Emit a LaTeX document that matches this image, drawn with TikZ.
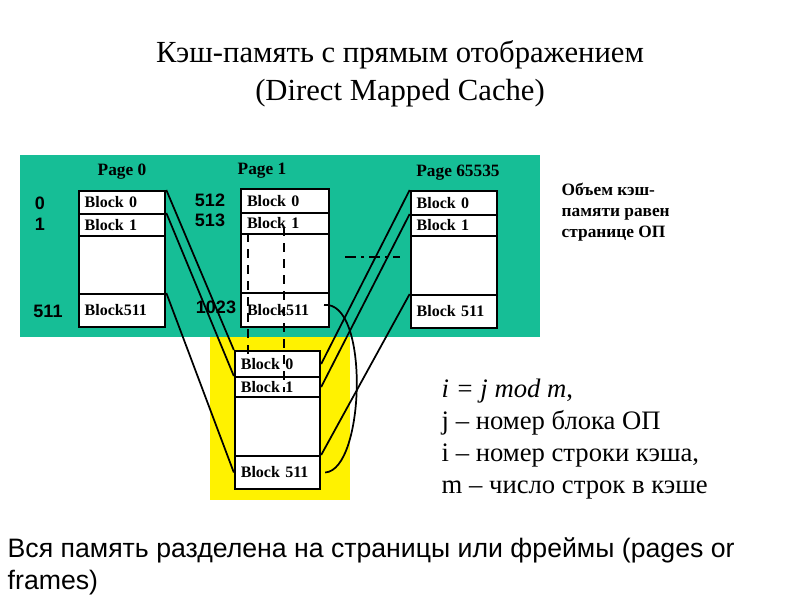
\documentclass[tikz,border=0pt]{standalone}
\usepackage{fontspec}
\setmainfont{Liberation Serif}
\newfontfamily\sansf{Liberation Sans}
\definecolor{bg}{RGB}{22,190,150}
\begin{document}
\begin{tikzpicture}[x=0.75pt,y=-0.75pt,
  blk/.style={draw,line width=1.5pt,fill=white,inner sep=0pt,text width=#1,align=left,font=\bfseries\fontsize{12}{14}\selectfont},
  lnk/.style={line width=1.3pt},
  lbl/.style={font=\bfseries\fontsize{13}{15}\selectfont},
  num/.style={font=\sansf\bfseries\fontsize{13.5}{15}\selectfont}]
\fill[white] (0,0) rectangle (800,600);
\fill[bg] (20,155) rectangle (540,337);
\fill[yellow] (210,337) rectangle (350,500);
\foreach \nm/\cy/\h/\t in {a0/202.5/23/Block 0,a1/225/22/Block 1,a2/265/58/,a3/310.5/33/Block511}{
  \node[blk=56pt,minimum width=82*0.75pt,minimum height=\h*0.75pt,inner xsep=4.5pt] (\nm) at (122,\cy) {\t};}
\foreach \nm/\cy/\h/\t in {b0/201/24/Block 0,b1/223.5/21/Block 1,b2/263.5/59/,b3/310/34/Block511}{
  \node[blk=57pt,minimum width=84*0.75pt,minimum height=\h*0.75pt,inner xsep=4.5pt] (\nm) at (285,\cy) {\t};}
\foreach \nm/\cy/\h/\t in {c0/203/24/Block 0,c1/225.5/21/Block 1,c2/265.5/59/,c3/311.5/33/Block 511}{
  \node[blk=56pt,minimum width=82*0.75pt,minimum height=\h*0.75pt,inner xsep=4.5pt] (\nm) at (454,\cy) {\t};}
\foreach \nm/\cy/\h/\t in {d0/364/26/Block 0,d1/387/20/Block 1,d2/426.5/59/,d3/472.5/33/Block 511}{
  \node[blk=55pt,minimum width=81*0.75pt,minimum height=\h*0.75pt,inner xsep=4.5pt] (\nm) at (277.5,\cy) {\t};}
\node[lbl] (p0) at (122,172) {Page 0};
\node[lbl] (p1) at (262,171) {Page 1};
\node[lbl] (p2) at (458,173) {Page 65535};
\node[num] (n0) at (40,203) {0};
\node[num] (n1) at (40,224) {1};
\node[num] (n511) at (48,311) {511};
\node[num] (n512) at (210,200) {512};
\node[num] (n513) at (210,220) {513};
\node[num] (n1023) at (216,307) {1023};
\draw[lnk] (a0.north east) -- (d0.north west);
\draw[lnk] (a1.north east) -- (d1.north west);
\draw[lnk] (a3.north east) -- (d3.west);
\draw[lnk] (c0.north west) -- (d0.east);
\draw[lnk] (c1.north west) -- (d1.east);
\draw[lnk] (c3.north west) -- (d3.north east);
\coordinate (q1) at (248,233); \coordinate (q2) at (248,355);
\coordinate (r1) at (284,227); \coordinate (r2) at (284,392);
\draw[lnk,dash pattern=on 7pt off 5pt] (q1) -- (q2);
\draw[lnk,dash pattern=on 7pt off 5pt] (r1) -- (r2);
\draw[lnk] (b3.east) ++(-6,-5) .. controls (370,300) and (365,470) .. ([xshift=3pt]d3.east);
\coordinate (h1) at (345,257); \coordinate (h2) at (400,257);
\draw[lnk,dash pattern=on 8pt off 4pt on 2pt off 4pt] (h1) -- (h2);
\node[font=\fontsize{23}{28.5}\selectfont,align=center] (title) at (400,74) {Кэш-память с прямым отображением\\(Direct Mapped Cache)};
\node[font=\bfseries\fontsize{13}{16}\selectfont,align=left,anchor=north west] (note) at (557,178) {Объем кэш-\\памяти равен\\странице ОП};
\node[font=\fontsize{20}{24}\selectfont,align=left,anchor=north west] (form) at (437,374) {\textit{i = j mod m},\\j – номер блока ОП\\i – номер строки кэша,\\m – число строк в кэше};
\node[font=\sansf\fontsize{20}{24}\selectfont,align=left,anchor=north west] (bot) at (3,533) {Вся память разделена на страницы или фреймы (pages or\\frames)};
\end{tikzpicture}
\end{document}
